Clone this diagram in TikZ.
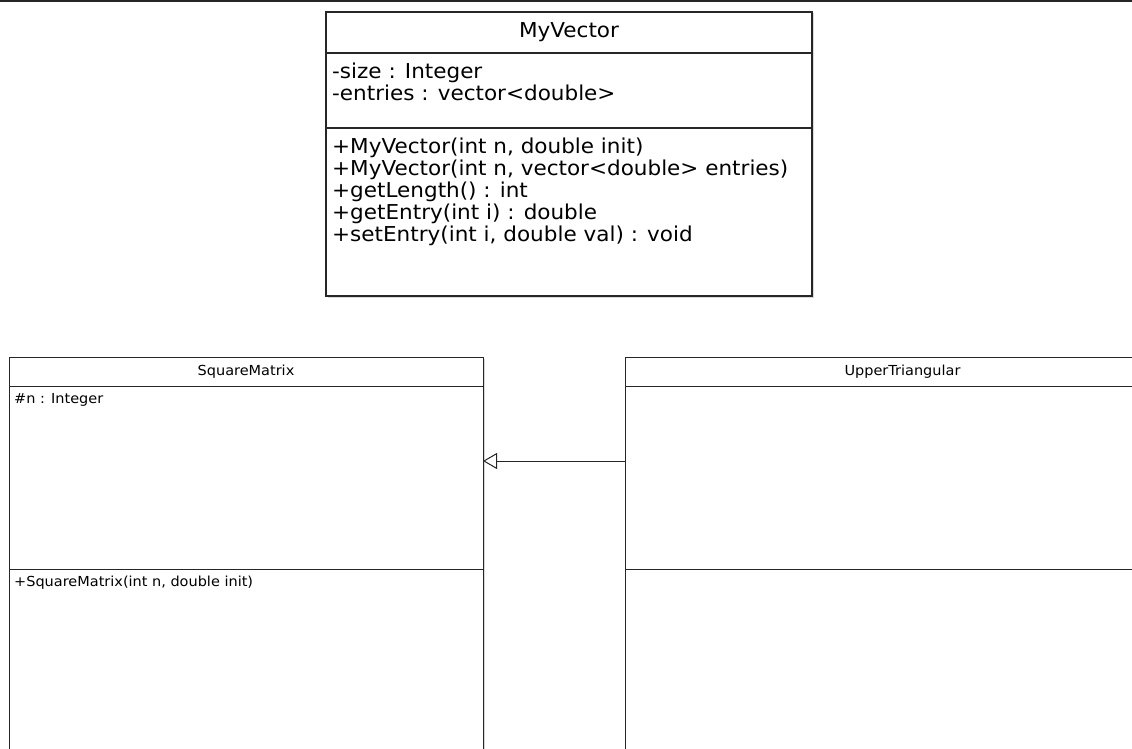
\documentclass[tikz,border=0pt]{standalone}
\usepackage{fontspec}
\newfontfamily\umlfont[FakeStretch=1.05]{DejaVu Sans}
\usetikzlibrary{positioning, arrows.meta, shadows}

\begin{document}
\begin{tikzpicture}[x=1pt, y=-1pt, >=Stealth,
  box/.style={draw=black!85, line width=1pt, fill=white, outer sep=0pt, inner sep=0pt,
    drop shadow={shadow xshift=1.5pt, shadow yshift=-1.5pt, opacity=0.3}},
  big box/.style={box, line width=1.5pt, minimum width=486, font=\umlfont\fontsize{20.5}{22}\selectfont},
  small box/.style={box, font=\umlfont\fontsize{13.8}{15}\selectfont},
  big text/.style={anchor=north west, inner sep=0pt, align=left, font=\umlfont\fontsize{20.5}{22}\selectfont, xshift=6pt, yshift=-10pt},
  small text/.style={anchor=north west, inner sep=0pt, align=left, font=\umlfont\fontsize{13.8}{15}\selectfont, xshift=5pt, yshift=-7pt},
  inherits/.style={draw=black!85, line width=1pt, -{Triangle[open, length=14pt, width=16pt, fill=white]}}]
  \useasboundingbox (0,0) rectangle (1132,749);
  \clip (0,0) rectangle (1132,749);
  \draw[line width=2pt, black!85] (0,1) -- (1132,1);

  % MyVector
  \node[big box, minimum height=41] (vectitle) at (569,32.5) {MyVector};
  \node[big box, minimum height=75, below=0pt of vectitle] (vecattr) {};
  \node[big box, minimum height=168, below=0pt of vecattr] (vecops) {};
  \node[big text] (vecattrs) at (vecattr.north west) {-size : Integer\\-entries : vector<double>};
  \node[big text] (vecmethods) at (vecops.north west) {+MyVector(int n, double init)\\+MyVector(int n, vector<double> entries)\\+getLength() : int\\+getEntry(int i) : double\\+setEntry(int i, double val) : void};

  % SquareMatrix
  \node[small box, minimum width=474, minimum height=29] (sqtitle) at (246,371.5) {SquareMatrix};
  \node[small box, minimum width=474, minimum height=183, below=0pt of sqtitle] (sqattr) {};
  \node[small box, minimum width=474, minimum height=240, below=0pt of sqattr] (sqops) {};
  \node[small text] (sqattrs) at (sqattr.north west) {\#n : Integer};
  \node[small text] (sqmethods) at (sqops.north west) {+SquareMatrix(int n, double init)};

  % UpperTriangular
  \node[small box, minimum width=555, minimum height=29] (uttitle) at (902.5,371.5) {UpperTriangular};
  \node[small box, minimum width=555, minimum height=183, below=0pt of uttitle] (utattr) {};
  \node[small box, minimum width=555, minimum height=240, below=0pt of utattr] (utops) {};

  \draw[inherits] ([yshift=16.5pt]utattr.west) -- ([yshift=16.5pt]sqattr.east);
\end{tikzpicture}
\end{document}
